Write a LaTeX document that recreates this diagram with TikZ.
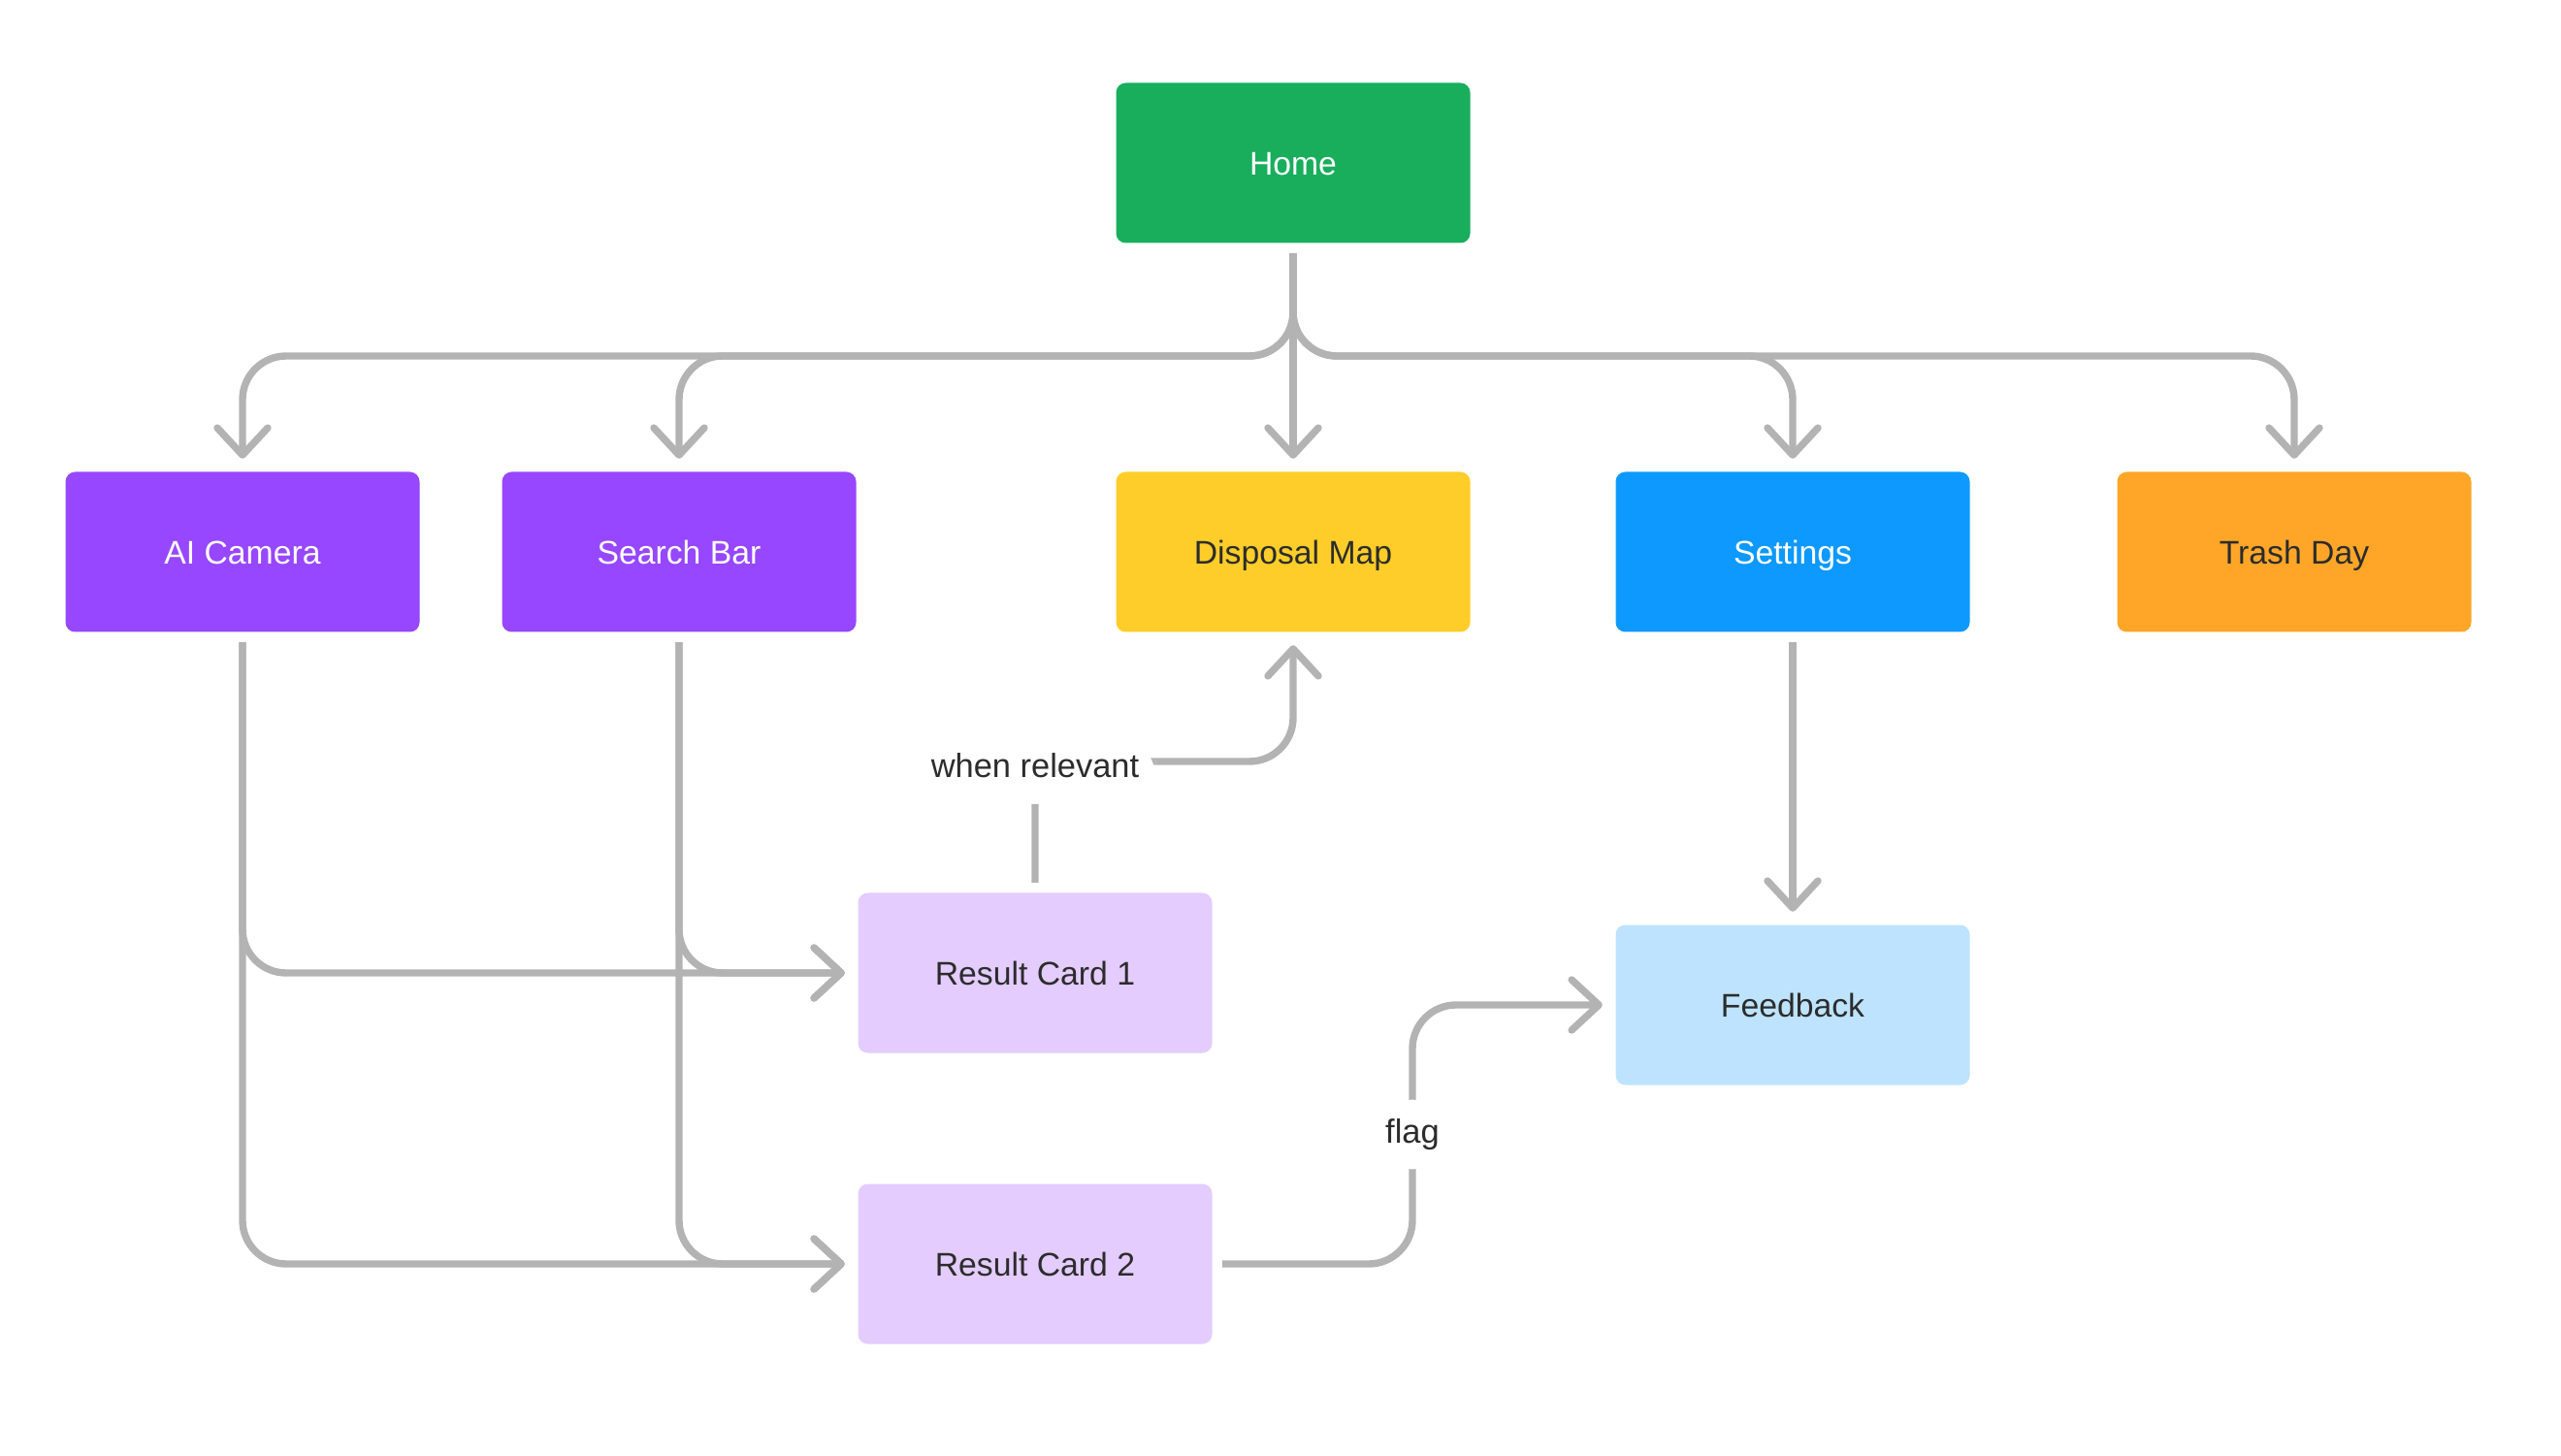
\documentclass[tikz,border=0pt]{standalone}
\usepackage{fontspec}
\setmainfont{Liberation Sans}
\usetikzlibrary{arrows.meta,calc}
\definecolor{homegreen}{RGB}{24,174,92}
\definecolor{toolpurple}{RGB}{151,71,255}
\definecolor{mapyellow}{RGB}{255,205,41}
\definecolor{setblue}{RGB}{13,153,255}
\definecolor{trashorange}{RGB}{255,166,41}
\definecolor{cardlilac}{RGB}{228,204,255}
\definecolor{fbblue}{RGB}{189,227,255}
\definecolor{linkgray}{RGB}{179,179,179}
\definecolor{labeldark}{RGB}{44,44,44}

\begin{document}
\begin{tikzpicture}[x=1cm,y=1cm,>={Straight Barb[length=2.8mm,width=5.2mm,round]},
  card/.style={rectangle,rounded corners=1mm,minimum width=3.65cm,minimum height=1.65cm,
    inner sep=0pt,text height=6.9pt,text depth=0pt,
    font=\fontsize{9.6}{11}\selectfont,text=labeldark},
  flow/.style={draw=linkgray,line width=2.1pt,rounded corners=4.5mm,->,
    shorten <=1mm,shorten >=1.3mm},
  tag/.style={fill=white,text=labeldark,font=\fontsize{9.8}{11}\selectfont,
    text height=7pt,text depth=2pt,inner xsep=1.7mm,inner ysep=2mm}]
  \useasboundingbox (0,0) rectangle (26.4,15);

  % Top level
  \node[card,fill=homegreen,text=white] (home) at (13.33,13.32) {Home};

  % Second row: screens reached from Home
  \node[card,fill=toolpurple,text=white] (aicam) at (2.50,9.31) {AI Camera};
  \node[card,fill=toolpurple,text=white] (search) at (7.00,9.31) {Search Bar};
  \node[card,fill=mapyellow] (dmap) at (13.33,9.31) {Disposal Map};
  \node[card,fill=setblue,text=white] (settings) at (18.48,9.31) {Settings};
  \node[card,fill=trashorange] (trash) at (23.65,9.31) {Trash Day};

  % Results and feedback
  \node[card,fill=cardlilac] (res1) at (10.67,4.97) {Result Card 1};
  \node[card,fill=cardlilac] (res2) at (10.67,1.97) {Result Card 2};
  \node[card,fill=fbblue] (fback) at (18.48,4.64) {Feedback};

  % Helper rows for the routed links
  \coordinate (bus) at (0,11.33);
  \coordinate (relay) at (0,7.15);
  \coordinate (flagx) at (14.56,0);

  % Home -> second row
  \foreach \T in {aicam,search,settings,trash} {
    \draw[flow] (home.south) -- (home.south |- bus) -- (\T.north |- bus) -- (\T.north);
  }
  \draw[flow] (home.south) -- (dmap.north);

  % Camera / search -> result cards
  \foreach \S in {aicam,search} {
    \draw[flow] (\S.south) -- (\S.south |- res1.west) -- (res1.west);
    \draw[flow] (\S.south) -- (\S.south |- res2.west) -- (res2.west);
  }

  % Result card 1 -> map
  \draw[flow] (res1.north) -- (res1.north |- relay) node[tag,yshift=-0.8mm] {when relevant}
    -- (dmap.south |- relay) -- (dmap.south);

  % Settings -> feedback, result card 2 -> feedback
  \draw[flow] (settings.south) -- (fback.north);
  \draw[flow] (res2.east) -- (res2.east -| flagx) -- node[tag] {flag} (flagx |- fback.west)
    -- (fback.west);

\end{tikzpicture}
\end{document}
